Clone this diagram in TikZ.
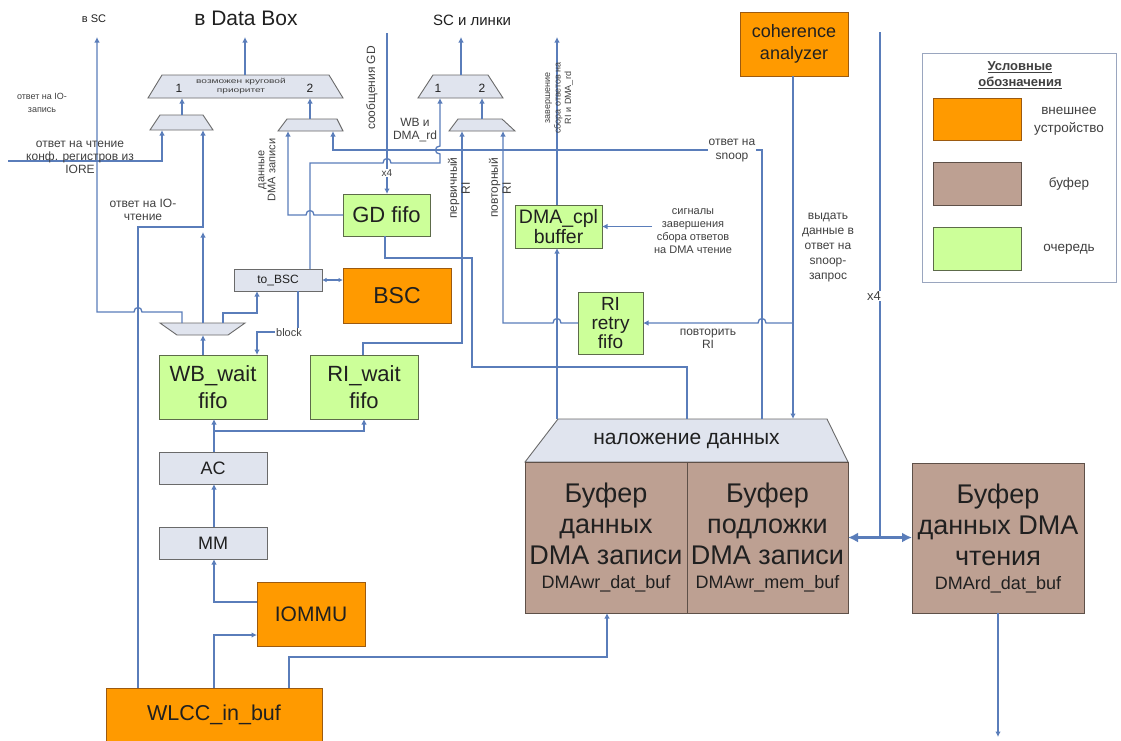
\documentclass[tikz,border=0pt]{standalone}
\usepackage{fontspec}
\setmainfont{Liberation Sans}
\newfontfamily\widesans[FakeStretch=1.45]{Liberation Sans}
\usetikzlibrary{arrows.meta}
\definecolor{wire}{HTML}{5A7DBA}
\definecolor{devorange}{HTML}{FF9A00}
\definecolor{devedge}{HTML}{9C5A10}
\definecolor{bufbrown}{HTML}{BDA092}
\definecolor{bufedge}{HTML}{5E5048}
\definecolor{qgreen}{HTML}{CCFF99}
\definecolor{qedge}{HTML}{5D6B4A}
\definecolor{blockgray}{HTML}{E0E4EE}
\definecolor{blockedge}{HTML}{6A6A6A}
\definecolor{textcol}{HTML}{202020}
\definecolor{labelcol}{HTML}{404040}
\definecolor{legedge}{HTML}{9AA6BF}
\newcommand{\fs}[2]{\fontsize{#1}{#2}\selectfont}
\begin{document}
\begin{tikzpicture}[x=1pt,y=-1pt,
  wire/.style={draw=wire,line width=1.3pt},
  fat/.style={draw=wire,line width=2.6pt},
  tip/.style={-{Latex[length=5.5pt,width=5.5pt]}},
  box/.style={draw,line width=0.9pt,align=center,inner sep=0pt,outer sep=0pt,anchor=north west,text=textcol},
  queue/.style={box,fill=qgreen,draw=qedge},
  device/.style={box,fill=devorange,draw=devedge},
  buffer/.style={box,fill=bufbrown,draw=bufedge,font=\fs{27}{31}},
  unit/.style={box,fill=blockgray,draw=blockedge},
  mux/.style={fill=blockgray,draw=blockedge,line width=0.9pt},
  lbl/.style={font=\fs{12}{13},text=labelcol,align=center,inner sep=1pt},
  vlbl/.style={lbl,rotate=90},
]
\fill[white] (0,0) rectangle (1121,740);
\useasboundingbox (0,0) rectangle (1121,740);
\clip (0,0) rectangle (1121,740);

% ---- end points at the top and bottom edges
\coordinate (toSC) at (97,37);
\coordinate (toDB) at (245,37);
\coordinate (toLinks) at (461,37);
\coordinate (cplUp) at (557,37);
\coordinate (gdMsg) at (387,33);
\coordinate (ioreIn) at (8,161);
\coordinate (x4top) at (880,32);
\coordinate (rdOut) at (997,737);
\coordinate (sigEnd) at (652,226.5);

% ---- multiplexers
\path[mux] (148,98) -- (162,75) -- (329,75) -- (343,98) -- cycle;
\path[mux] (418,98) -- (433,75) -- (488,75) -- (503,98) -- cycle;
\path[mux] (150,130) -- (160,115) -- (203,115) -- (213,130) -- cycle;
\path[mux] (278,131) -- (287,119) -- (337,119) -- (343,131) -- cycle;
\path[mux] (449,131) -- (458,119) -- (502,119) -- (515,131) -- cycle;
\path[mux] (160,323) -- (245,323) -- (228,335) -- (177,335) -- cycle;
\coordinate (bmuxLout) at (245,75);
\coordinate (bmuxLin1) at (182,98);
\coordinate (bmuxLin2) at (310,98);
\coordinate (bmuxRout) at (461,75);
\coordinate (bmuxRin1) at (440,98);
\coordinate (bmuxRin2) at (482,98);
\coordinate (smLout) at (182,115);
\coordinate (smLin1) at (162,130);
\coordinate (smLin2) at (203,130);
\coordinate (smRout) at (310,119);
\coordinate (smRin1) at (288,131);
\coordinate (smRin2) at (333,131);
\coordinate (smSout) at (482,119);
\coordinate (smSin1) at (462,131);
\coordinate (smSin2) at (503,131);
\coordinate (dmxIn) at (203,335);
\coordinate (dmxO1) at (182,323);
\coordinate (dmxO2) at (203,323);
\coordinate (dmxO3) at (223,323);
\node[font=\fs{12}{12},text=textcol] (m1) at (179,88) {1};
\node[font=\fs{12}{12},text=textcol] (m2) at (310,88) {2};
\node[font=\fs{12}{12},text=textcol] (m3) at (438,88) {1};
\node[font=\fs{12}{12},text=textcol] (m4) at (482,88) {2};
\node[font=\widesans\fs{7}{9.5},text=labelcol,align=center] (prio) at (241,86) {возможен круговой\\приоритет};

% ---- data overlay and buffers
\path[mux] (525,462) -- (558,419) -- (827,419) -- (848,462) -- cycle;
\node[inner sep=0pt,outer sep=0pt,minimum width=323pt,minimum height=43pt,anchor=north west,font=\fs{21}{23},text=textcol] (ovl) at (525,419) {наложение данных};
\node[buffer,minimum width=162pt,minimum height=151pt] (wrdat) at (525,462)
  {Буфер\\данных\\DMA записи\\[-7pt]{\fs{18}{20}DMAwr\_dat\_buf}};
\node[buffer,minimum width=161pt,minimum height=151pt] (wrmem) at (687,462)
  {Буфер\\подложки\\DMA записи\\[-7pt]{\fs{18}{20}DMAwr\_mem\_buf}};
\node[buffer,minimum width=172pt,minimum height=150pt] (rddat) at (912,463)
  {Буфер\\данных DMA\\чтения\\[-7pt]{\fs{18}{20}DMArd\_dat\_buf}};

% ---- queues, devices and units
\node[queue,minimum width=87pt,minimum height=42pt,font=\fs{22}{24}] (gd) at (343,194) {GD fifo};
\node[queue,minimum width=87pt,minimum height=43pt,font=\fs{19.5}{20}] (cpl) at (515,205) {DMA\_cpl\\buffer};
\node[queue,minimum width=65pt,minimum height=62pt,font=\fs{19}{19}] (retry) at (578,292) {RI\\retry\\fifo};
\node[queue,minimum width=108pt,minimum height=64pt,font=\fs{22}{27}] (wbw) at (159,355) {WB\_wait\\fifo};
\node[queue,minimum width=108pt,minimum height=64pt,font=\fs{22}{27}] (riw) at (310,355) {RI\_wait\\fifo};
\node[device,minimum width=108pt,minimum height=55pt,font=\fs{23}{24}] (bsc) at (343,268) {BSC};
\node[unit,minimum width=88pt,minimum height=22pt,font=\fs{12}{13}] (tobsc) at (234,269) {to\_BSC};
\node[unit,minimum width=108pt,minimum height=32pt,font=\fs{18}{19}] (ac) at (159,452) {AC};
\node[unit,minimum width=108pt,minimum height=32pt,font=\fs{18}{19}] (mm) at (159,527) {MM};
\node[device,minimum width=108pt,minimum height=64pt,font=\fs{21}{24}] (iommu) at (257,582) {IOMMU};
\node[device,minimum width=216pt,minimum height=54pt,font=\fs{21.5}{24}] (wlcc) at (106,688) {WLCC\_in\_buf};
\node[device,minimum width=108pt,minimum height=64pt,font=\fs{18}{22}] (coh) at (740,12) {coherence\\analyzer};

% ---- outputs of the multiplexers
\draw[wire,tip] (bmuxLout) -- (toDB);
\draw[wire,tip] (bmuxRout) -- (toLinks);
\draw[wire,tip] (smLout) -- (bmuxLin1);
\draw[wire,tip] (smRout) -- (bmuxLin2);
\draw[wire,tip] (smSout) -- (bmuxRin2);

% ---- left column
\draw[wire,tip] (ioreIn) -- (ioreIn -| smLin1) -- (smLin1);
\draw[wire,tip] (wlcc.north -| 138,0) -- (138,227) -- (203,227) -- (smLin2);
\draw[wire,tip] (dmxO2) -- (203,232);
\draw[wire,tip] (dmxO3) -- (223,313) -- (257,313) -- (tobsc.south -| 257,0);
\draw[wire,tip] (dmxO1) -- (182,312) -- (142,312) .. controls (142,306) and (134,306) .. (134,312) -- (97,312) -- (toSC);
\draw[wire,tip] (wbw.north -| dmxIn) -- (dmxIn);
\draw[wire,tip] (tobsc.south -| 298,0) -- (298,332) -- (257,332) -- (wbw.north -| 257,0);
\node[lbl,fill=white,font=\fs{11}{11}] (blk) at (289,333) {block};
\draw[wire,{Latex[length=4.5pt,width=4.5pt]}-{Latex[length=4.5pt,width=4.5pt]}] (tobsc.east) -- (bsc.west |- tobsc.east);
\draw[wire,tip] (tobsc.north -| 310,0) -- (310,163) -- (383,163) .. controls (383,157) and (391,157) .. (391,163)
  -- (440,163) -- (440,154) .. controls (434,154) and (434,146) .. (440,146) -- (bmuxRin1);
\draw[wire,tip] (gd.west) -- (314,215) .. controls (314,209) and (306,209) .. (306,215) -- (288,215) -- (smRin1);
\draw[wire,tip] (gdMsg) -- (gd.north -| gdMsg);
\node[lbl,fill=white,font=\fs{10}{11}] (x4a) at (387,173) {x4};
\draw[wire] (gd.south -| 385,0) -- (385,258) -- (472,258) -- (472,367) -- (687,367) -- (ovl.north -| 687,0);
\draw[wire,tip] (riw.north -| 363,0) -- (363,343) -- (462,343) -- (smSin1);
\draw[wire,tip] (retry.west) -- (561,323) .. controls (561,317) and (553,317) .. (553,323) -- (503,323) -- (smSin2);
\draw[wire,tip] (ac.north -| 214,0) -- (wbw.south -| 214,0);
\draw[wire,tip] (214,431) -- (364,431) -- (riw.south -| 364,0);
\draw[wire,tip] (mm.north -| 214,0) -- (ac.south -| 214,0);
\draw[wire,tip] (iommu.west |- 0,602) -- (214,602) -- (mm.south -| 214,0);
\draw[wire,tip] (wlcc.north -| 214,0) -- (214,635) -- (iommu.west |- 0,635);
\draw[wire,tip] (wlcc.north -| 289,0) -- (289,657) -- (607,657) -- (wrdat.south -| 607,0);

% ---- right part
\draw[wire,tip] (ovl.north -| 762,0) -- (762,150) -- (333,150) -- (smRin2);
\draw[wire,tip] (ovl.north -| 557,0) -- (cpl.south -| 557,0);
\draw[wire,tip] (cpl.north -| 557,0) -- (cplUp);
\draw[wire,tip] (sigEnd) -- (cpl.east);
\draw[wire,tip] (coh.south -| 793,0) -- (ovl.north -| 793,0);
\draw[wire,tip] (793,323) -- (766,323) .. controls (766,317) and (758,317) .. (758,323) -- (retry.east);
\draw[fat] (x4top) -- (880,537);
\draw[fat,{Latex[length=10pt,width=10pt]}-{Latex[length=10pt,width=10pt]}] (wrmem.east) -- (rddat.west |- wrmem.east);
\draw[wire,tip] (rddat.south) -- (rddat.south |- rdOut);
\node[lbl,fill=white,font=\fs{13}{14}] (x4b) at (874,296) {x4};

% ---- connector labels
\node[text=textcol,font=\fs{11}{12}] (lsc) at (94,19) {в SC};
\node[text=textcol,font=\fs{21}{23}] (ldb) at (246,18) {в Data Box};
\node[text=textcol,font=\fs{15}{17}] (llinks) at (472,20) {SC и линки};
\node[lbl,font=\fs{9}{13}] at (42,103) {ответ на IO-\\запись};
\node[lbl] at (80,157) {ответ на чтение\\конф. регистров из\\IORE};
\node[lbl] at (143,210) {ответ на IO-\\чтение};
\node[vlbl,font=\fs{11}{11}] at (267,170) {данные\\DMA записи};
\node[vlbl] at (372,88) {сообщения GD};
\node[lbl] at (415,130) {WB и\\DMA\_rd};
\node[vlbl] at (459,188) {первичный\\RI};
\node[vlbl] at (500,188) {повторный\\RI};
\node[vlbl,font=\fs{9}{10.5}] at (559,98) {завершение\\сбора ответов на\\RI и DMA\_rd};
\node[lbl,fill=white,font=\fs{12}{14}] at (732,151) {ответ на\\snoop};
\node[lbl,font=\fs{11}{13}] at (693,231) {сигналы\\завершения\\сбора ответов\\на DMA чтение};
\node[lbl,font=\fs{12}{15}] at (828,248) {выдать\\данные в\\ответ на\\snoop-\\запрос};
\node[lbl] at (708,339) {повторить\\RI};

% ---- legend
\node[draw=legedge,line width=0.8pt,anchor=north west,minimum width=194pt,minimum height=229pt,inner sep=0pt,outer sep=0pt] (legend) at (922,53) {};
\node[font=\bfseries\fs{13}{16},text=labelcol,align=center] (legtitle) at (1020,75) {\underline{Условные}\\\underline{обозначения}};
\node[device,minimum width=88pt,minimum height=42pt] (legdev) at (933,98) {};
\node[buffer,minimum width=88pt,minimum height=43pt] (legbuf) at (933,162) {};
\node[queue,minimum width=88pt,minimum height=43pt] (legq) at (933,227) {};
\node[lbl,font=\fs{13.5}{18}] at (1069,121) {внешнее\\устройство};
\node[lbl,font=\fs{13.5}{18}] at (1069,184) {буфер};
\node[lbl,font=\fs{13.5}{18}] at (1069,249) {очередь};
\end{tikzpicture}
\end{document}
